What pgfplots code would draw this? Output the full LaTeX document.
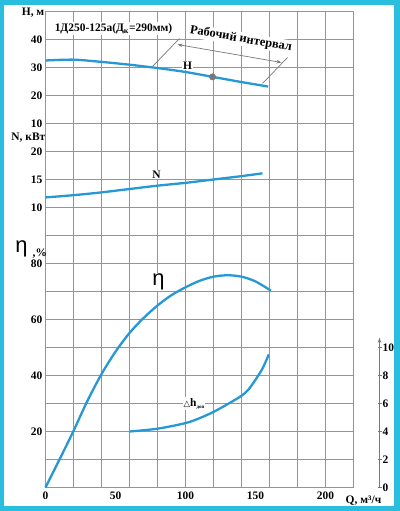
\documentclass[border=0pt]{standalone}
\usepackage{pgfplots}
\pgfplotsset{compat=1.18}
\usepackage{pgfplotstable}
\usepackage{fontspec}
\setmainfont{Liberation Serif}
\newfontfamily\sansfont{Liberation Sans}
\newfontfamily\symfont{DejaVu Sans}
\usetikzlibrary{arrows.meta}

\definecolor{bordercyan}{rgb}{0.165,0.745,0.871}
\definecolor{gridcol}{rgb}{0.30,0.67,0.89}
\definecolor{curveblue}{rgb}{0.149,0.596,0.839}
\definecolor{annot}{rgb}{0.47,0.47,0.47}

% head H, m
\pgfplotstableread{
Q   H
0   32.5
20  32.8
40  32.0
60  31.0
80  29.8
100 28.4
120 26.6
140 24.8
159 23.2
}\headtable

% power N, kW
\pgfplotstableread{
Q   N
0   11.8
20  12.2
40  12.7
60  13.3
80  13.9
100 14.4
120 15.0
140 15.6
155 16.1
}\powertable

% efficiency, %
\pgfplotstableread{
Q   eta
0   0
10  10.0
20  20.2
30  31.0
40  40.5
50  48.5
60  55.2
70  60.5
80  65.0
90  68.7
100 71.5
110 73.8
120 75.3
130 75.8
140 75.3
150 73.6
161 70.3
}\efftable

% NPSH required, m
\pgfplotstableread{
Q     dh
60    4.0
80    4.2
100   4.6
110   4.95
120   5.4
130   5.95
140   6.55
145   7.0
150   7.7
155   8.5
159.5 9.5
}\npshtable

\newcommand\lblfont{\fontsize{11.5}{12}\selectfont\bfseries}

\begin{document}
\begin{tikzpicture}
\path[use as bounding box] (-45.5bp,-23.5bp) rectangle (354.5bp,487.5bp);
% white page with a cyan border
\fill[white] (-45.5bp,-23.5bp) rectangle (354.5bp,487.5bp);
\fill[bordercyan] (-45.5bp,-23.5bp) rectangle (-41bp,487.5bp);
\fill[bordercyan] (348.5bp,-23.5bp) rectangle (354.5bp,487.5bp);
\fill[bordercyan] (-45.5bp,482.5bp) rectangle (354.5bp,487.5bp);
\fill[bordercyan] (-45.5bp,-23.5bp) rectangle (354.5bp,-18.5bp);

% 11 x 17 grid cells of 28 bp (20 m3/h by one scale step)
\foreach \i in {0,...,11} \draw[gridcol, line width=1.1bp] (\i*28bp,0bp) -- (\i*28bp,476bp);
\foreach \j in {0,...,17} \draw[gridcol, line width=1.1bp] (0bp,\j*28bp) -- (308bp,\j*28bp);

\begin{axis}[
  at={(0,0)}, anchor=south west,
  scale only axis, width=308bp, height=476bp,
  xmin=0, xmax=220, ymin=0, ymax=17,
  axis line style={draw=none},
  tick style={draw=none},
  major tick length=0pt,
  xtick={0,50,100,150,200},
  ytick={2,4,6,8,10,11,12,13,14,15,16},
  yticklabels={20,40,60,80,10,15,20,10,20,30,40},
  ticklabel style={font=\lblfont, inner sep=0pt},
  xticklabel style={anchor=north, yshift=-4.5bp},
  yticklabel style={anchor=east, xshift=-3bp},
  /pgf/number format/assume math mode=true,
  clip=false,
]
\addplot[curveblue, line width=2.3bp, smooth] table[x=Q, y expr=12+\thisrow{H}/10] {\headtable};
\addplot[curveblue, line width=2.3bp, smooth] table[x=Q, y expr=10+(\thisrow{N}-10)/5] {\powertable};
\addplot[curveblue, line width=2.3bp, smooth] table[x=Q, y expr=\thisrow{eta}/10] {\efftable};
% duty point on the head curve
\addplot[only marks, mark=*, mark size=3.2bp, mark options={fill=annot, draw=annot}] coordinates {(119.3, 14.665)};
\end{axis}

% NPSH scale on the right
\begin{axis}[
  at={(0,0)}, anchor=south west,
  scale only axis, width=334bp, height=149.8bp,
  xmin=0, xmax=238.57, ymin=0, ymax=10.7,
  axis x line=none, axis y line=right,
  xtick=\empty,
  y axis line style={annot, line width=0.9bp, -{Stealth[length=5bp,width=3.5bp]}},
  ytick={0,2,...,10},
  tick align=center, major tick length=4bp,
  tick style={annot, line width=0.7bp},
  yticklabel style={font=\lblfont, anchor=west, inner sep=0pt, xshift=1bp},
  /pgf/number format/assume math mode=true,
  clip=false,
]
\addplot[curveblue, line width=2.3bp, smooth] table[x=Q, y=dh] {\npshtable};
\end{axis}

% working range marker
\draw[annot, line width=0.7bp] (107bp,421bp) -- (134bp,449bp);
\draw[annot, line width=0.7bp] (217bp,404bp) -- (242bp,430bp);
\draw[annot, line width=0.7bp, {Stealth[length=5bp,width=3.5bp]}-{Stealth[length=5bp,width=3.5bp]}] (132bp,443bp) -- (236bp,425bp);
\node[rotate=-9.5, fill=white, inner sep=1bp, font=\fontsize{12.5}{13}\selectfont\bfseries] at (195.5bp,448.5bp) {Рабочий интервал};

% title
\node[fill=white, inner sep=1bp, font=\lblfont] at (68bp,459bp) {1Д250-125а(Д\textsubscript{к}=290мм)};

% axis titles
\node[anchor=east, inner sep=0pt, font=\lblfont] at (-1bp,475bp) {H, м};
\node[anchor=east, inner sep=0pt, font=\lblfont] at (0bp,350bp) {N, кВт};
\node[inner sep=0pt, font=\sansfont\fontsize{22}{22}\selectfont] at (-24bp,239bp) {η};
\node[anchor=west, inner sep=0pt, font=\lblfont] at (-13bp,234bp) {,\%};
\node[anchor=west, inner sep=0pt, font=\lblfont] at (300bp,-13bp) {Q, м³/ч};

% curve labels
\node[fill=white, inner sep=1bp, font=\lblfont] at (142bp,422bp) {H};
\node[fill=white, inner sep=1bp, font=\lblfont] at (111bp,313bp) {N};
\node[fill=white, inner sep=1bp, font=\sansfont\fontsize{22}{22}\selectfont] at (113bp,205.5bp) {η};
\node[fill=white, inner sep=1bp] at (148.5bp,84bp) {{\symfont\fontsize{8.5}{8.5}\selectfont △}{\lblfont h}\raisebox{-2bp}{\fontsize{5}{5}\selectfont\bfseries доп}};
\end{tikzpicture}
\end{document}
